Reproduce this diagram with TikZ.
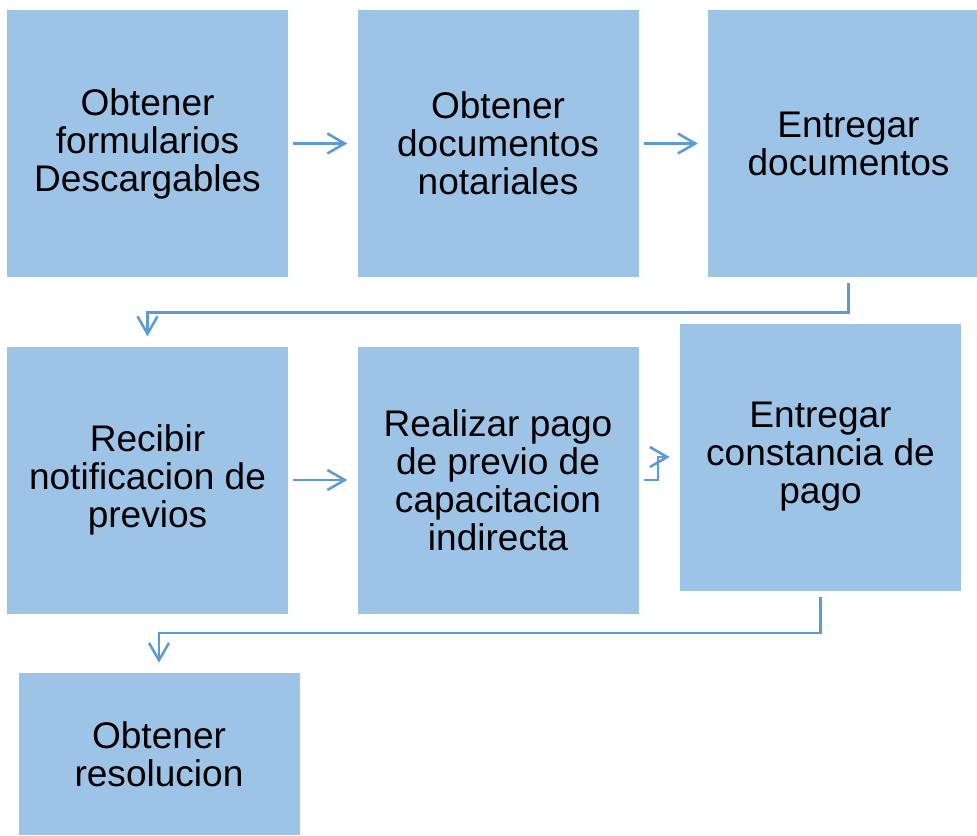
\documentclass[tikz,border=0pt]{standalone}
\usepackage{fontspec}
\setmainfont{Liberation Sans}
\usetikzlibrary{arrows.meta}
\definecolor{boxblue}{HTML}{9DC3E6}
\definecolor{linkblue}{HTML}{5B9BD5}
\begin{document}
\begin{tikzpicture}[x=0.75pt, y=-0.75pt,
    every node/.style={rectangle, fill=boxblue, inner sep=0pt, minimum width=210.75pt, minimum height=200.25pt, align=center, font=\fontsize{27.8}{28.5}\selectfont},
    link/.style={draw=linkblue, line width=1.9pt, -{Straight Barb[length=13pt, width=15pt]}}]
      \useasboundingbox (0,0) rectangle (977,835);
      \node (n1) at (147.5,143.5) {Obtener\\formularios\\Descargables};
      \node (n2) at (498,143.5) {Obtener\\documentos\\notariales};
      \node (n3) at (848.5,143.5) {Entregar\\documentos};
      \node (n4) at (147.5,480) {Recibir\\notificacion de\\previos};
      \node (n5) at (498,480) {Realizar pago\\de previo de\\capacitacion\\indirecta};
      \node (n6) at (820.5,457) {Entregar\\constancia de\\pago};
      \node (n7) at (159,754) [minimum height=121.5pt] {Obtener\\resolucion};
      \foreach \source/\dest in {n1/n2, n2/n3, n4/n5}
        \draw[link, shorten <=3.75pt, shorten >=7.5pt] (\source.east) -- (\dest.west);
      \draw[link, shorten <=4.5pt, shorten >=7.5pt] (n3.south) -- ++(0,35) -| (n4.north);
      \draw[link, shorten <=3.75pt, shorten >=7.5pt] (n5.east) -- ++(19,0) |- (n6.west);
      \draw[link, shorten <=4.5pt, shorten >=7.5pt] (n6.south) -- ++(0,42) -| (n7.north);
\end{tikzpicture}
\end{document}
